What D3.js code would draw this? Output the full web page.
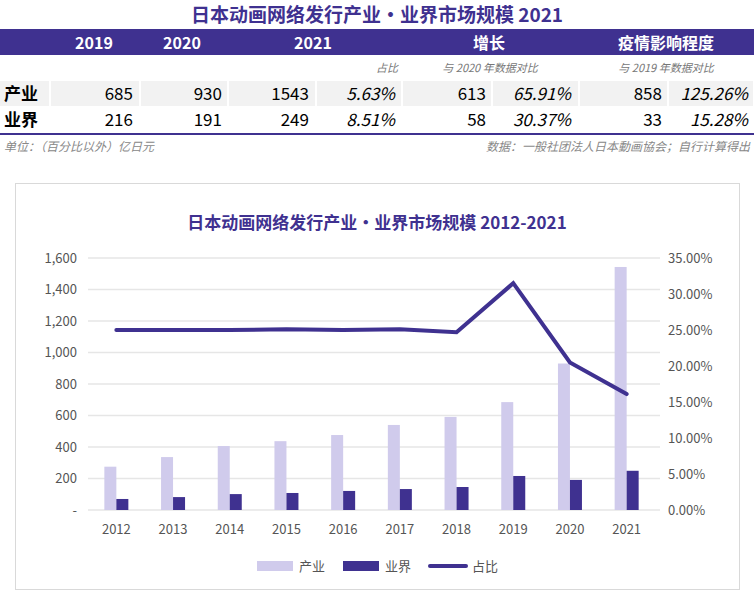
<!DOCTYPE html>
<html><head><meta charset="utf-8">
<script src="https://cdn.jsdelivr.net/npm/d3@7"></script>
<style>body{margin:0;background:#fff;font-family:"Microsoft YaHei","Noto Sans CJK SC","Noto Sans",sans-serif}</style>
</head><body><svg id="c" width="754" height="603"></svg>
<script>
const years=["2012","2013","2014","2015","2016","2017","2018","2019","2020","2021"];
const industry=[275,336,406,437,476,540,591,685,930,1543];
const sector=[70,82,101,108,121,133,146,216,191,249];
const share=[25.0,25.0,25.0,25.1,25.0,25.1,24.7,31.5,20.5,16.1];
const leftTicks=[0,200,400,600,800,1000,1200,1400,1600];
const rightTicks=[0,5,10,15,20,25,30,35];
const headCols=["2019","2020","2021","增长","疫情影响程度"];
const subHeads=["占比","与 2020 年数据对比","与 2019 年数据对比"];
const rowNames=["产业","业界"];
const tableRows=[["685","930","1543","5.63%","613","65.91%","858","125.26%"],["216","191","249","8.51%","58","30.37%","33","15.28%"]];
const P="#3f3190",L="#d0cbec";
const svg=d3.select("#c");
const F='"Microsoft YaHei","Noto Sans CJK SC",sans-serif';
svg.append("text").attr("x",377).attr("y",22).attr("text-anchor","middle").attr("font-size",19).attr("font-weight","bold").attr("fill",P).attr("font-family",F).text("日本动画网络发行产业·业界市场规模 2021");
svg.append("rect").attr("x",0).attr("y",29).attr("width",754).attr("height",26).attr("fill",P);
const hx=[94,182,313,489,666];
headCols.forEach((t,i)=>svg.append("text").attr("x",hx[i]).attr("y",49).attr("text-anchor","middle").attr("fill","#fff").attr("font-size",16).attr("font-weight","bold").attr("font-family",F).text(t));
const sx=[[398,"end"],[490,"middle"],[666,"middle"]];
subHeads.forEach((t,i)=>svg.append("text").attr("x",sx[i][0]).attr("y",72).attr("text-anchor",sx[i][1]).attr("fill","#777").attr("font-size",11).attr("font-style","italic").attr("font-family",F).text(t));
const cb=[50,140,228,316,402,492,579,668,754];
const ends=[133,222,309,395,486,571,662,748];
tableRows.forEach((r,ri)=>{const y0=81+ri*26;
  if(ri==0){for(let k=-1;k<8;k++){const a=k<0?0:cb[k]+1,b=k<0?49:cb[k+1]-1;svg.append("rect").attr("x",a).attr("y",y0).attr("width",b-a).attr("height",25).attr("fill","#f2f2f2");}}
  svg.append("text").attr("x",4).attr("y",y0+19).attr("font-size",17).attr("font-weight","bold").attr("font-family",F).text(rowNames[ri]);
  r.forEach((v,i)=>svg.append("text").attr("x",ends[i]).attr("y",y0+19).attr("text-anchor","end").attr("font-size",17).attr("font-style",i%2==1&&i>2?"italic":"normal").attr("font-family",F).text(v));
});
svg.append("rect").attr("x",0).attr("y",133).attr("width",754).attr("height",2).attr("fill",P);
svg.append("text").attr("x",4).attr("y",151).attr("font-size",12).attr("fill","#888").attr("font-style","italic").attr("font-family",F).text("单位：（百分比以外）亿日元");
svg.append("text").attr("x",750).attr("y",151).attr("text-anchor","end").attr("font-size",12).attr("fill","#888").attr("font-style","italic").attr("font-family",F).text("数据：一般社团法人日本動画協会；自行计算得出");
svg.append("rect").attr("x",15.5).attr("y",183.5).attr("width",724).attr("height",406).attr("fill","none").attr("stroke","#d9d9d9");
svg.append("text").attr("x",377).attr("y",229).attr("text-anchor","middle").attr("font-size",17).attr("font-weight","bold").attr("fill",P).attr("font-family",F).text("日本动画网络发行产业·业界市场规模 2012-2021");
const x=d3.scaleBand().domain(years).range([88,655]);
const y=d3.scaleLinear().domain([0,1600]).range([510,258]);
const y2=d3.scaleLinear().domain([0,35]).range([510,258]);
const g=svg.append("g");
leftTicks.forEach(t=>g.append("line").attr("x1",88).attr("x2",660).attr("y1",y(t)).attr("y2",y(t)).attr("stroke","#e6e6e6").attr("stroke-width",1.5));
g.append("g").attr("transform","translate(80,0)").call(d3.axisLeft(y).tickValues(leftTicks).tickSize(0).tickFormat(d=>d==0?"-":d3.format(",")(d))).call(a=>a.select(".domain").remove()).selectAll("text").attr("font-size",13).attr("fill","#555").attr("font-family",F);
g.append("g").attr("transform","translate(665,0)").call(d3.axisRight(y2).tickValues(rightTicks).tickSize(0).tickFormat(d=>d.toFixed(2)+"%")).call(a=>a.select(".domain").remove()).selectAll("text").attr("font-size",13).attr("fill","#555").attr("font-family",F);
g.append("g").attr("transform","translate(0,518)").call(d3.axisBottom(x).tickSize(0)).call(a=>a.select(".domain").remove()).selectAll("text").attr("font-size",13).attr("fill","#555").attr("font-family",F).attr("dy","1em");
const c=y=>x(y)+x.bandwidth()/2, bw=12;
g.selectAll(".b1").data(industry).join("rect").attr("x",(d,i)=>c(years[i])-bw).attr("width",bw).attr("y",d=>y(d)).attr("height",d=>510-y(d)).attr("fill",L);
g.selectAll(".b2").data(sector).join("rect").attr("x",(d,i)=>c(years[i])).attr("width",bw).attr("y",d=>y(d)).attr("height",d=>510-y(d)).attr("fill",P);
g.append("path").datum(share).attr("d",d3.line().x((d,i)=>c(years[i])).y(d=>y2(d))).attr("fill","none").attr("stroke",P).attr("stroke-width",4).attr("stroke-linecap","round");
const lg=[[257,"rect",L,"产业"],[343,"rect",P,"业界"],[430,"line",P,"占比"]];
lg.forEach(([lx,t,col,lab])=>{
  if(t=="rect")svg.append("rect").attr("x",lx).attr("y",561).attr("width",36).attr("height",10).attr("fill",col);
  else svg.append("line").attr("x1",lx).attr("x2",lx+36).attr("y1",566).attr("y2",566).attr("stroke",col).attr("stroke-width",4).attr("stroke-linecap","round");
  svg.append("text").attr("x",lx+42).attr("y",571).attr("font-size",13).attr("fill","#555").attr("font-family",F).text(lab);
});
</script></body></html>
